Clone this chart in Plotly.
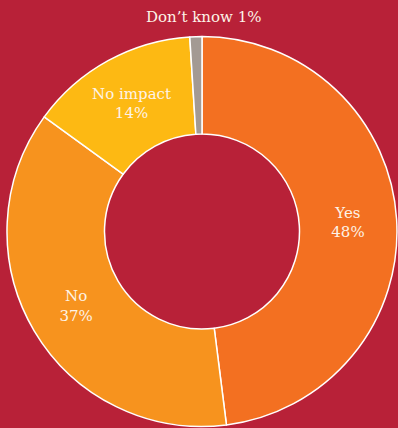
import plotly.graph_objects as go

# Survey response shares (%)
labels = ["Yes", "No", "No impact", "Don\u2019t know"]
values = [48, 37, 14, 1]
colors = ["#F37021", "#F7931E", "#FDB913", "#A39A93"]
slice_text = ["Yes<br>48%", "No<br>37%", "No impact<br>14%", ""]

bg = "#B82138"
text_color = "#FDF3E7"
font_family = "DejaVu Serif"

fig = go.Figure(
    go.Pie(
        labels=labels,
        values=values,
        text=slice_text,
        textinfo="text",
        textposition="inside",
        insidetextorientation="horizontal",
        hole=0.5,
        sort=False,
        direction="clockwise",
        rotation=0,
        marker=dict(colors=colors, line=dict(color="#FFFFFF", width=1.5)),
        textfont=dict(family=font_family, size=15, color=text_color),
        domain=dict(x=[7 / 398, 397 / 398], y=[1 / 428, 392 / 428]),
        showlegend=False,
    )
)

# Label for the tiny slice sits above the ring
fig.add_annotation(
    text=f"{labels[3]} {values[3]}%",
    x=203 / 398,
    y=1 - 17 / 428,
    xref="paper",
    yref="paper",
    xanchor="center",
    yanchor="middle",
    showarrow=False,
    font=dict(family=font_family, size=15, color=text_color),
)

fig.update_layout(
    width=398,
    height=428,
    margin=dict(l=0, r=0, t=0, b=0),
    paper_bgcolor=bg,
    plot_bgcolor=bg,
)

fig.write_html("out.html")
